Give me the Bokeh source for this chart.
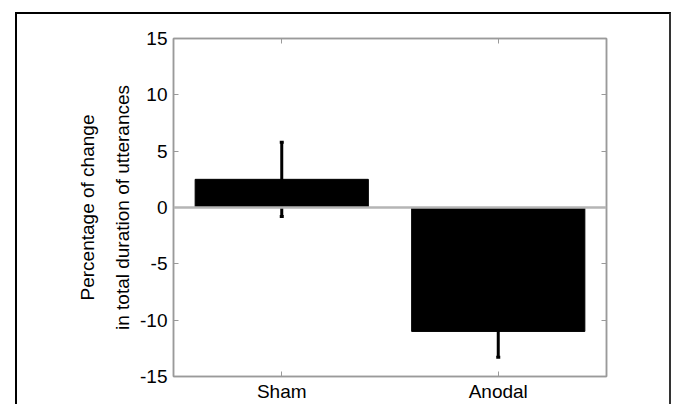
from bokeh.plotting import figure
from bokeh.models import (FactorRange, Range1d, LinearAxis, CategoricalAxis, Span,
                          ColumnDataSource, Whisker, TeeHead, FixedTicker, CustomJSTickFormatter,
                          InlineStyleSheet)
from bokeh.embed import file_html
from bokeh.resources import INLINE

categories = ["Sham", "Anodal"]
means = [2.5, -11.0]
sem = [3.3, 2.3]
y_ticks = [-15, -10, -5, 0, 5, 10, 15]

lower = [m - s for m, s in zip(means, sem)]
upper = [m + s for m, s in zip(means, sem)]
src = ColumnDataSource(dict(cat=categories, val=means, lower=lower, upper=upper))

FONT = "Liberation Sans"
GRAY = "#9a9a9a"

p = figure(x_range=FactorRange(factors=categories, range_padding=0),
           y_range=Range1d(-15, 15),
           width=674, height=404, output_backend="svg", toolbar_location=None,
           min_border_left=173, min_border_right=68, min_border_top=38, min_border_bottom=23)
frame_css = InlineStyleSheet(css="""
:host::after {
  content: "";
  position: absolute;
  left: 15px; top: 12px; right: 3px; bottom: -20px;
  border-top: 2px solid #000; border-left: 2px solid #000; border-right: 2px solid #333;
  pointer-events: none;
}
""")
p.stylesheets = [frame_css]

p.outline_line_color = GRAY
p.outline_line_width = 1.5
p.xgrid.visible = False
p.ygrid.visible = False

p.vbar(x="cat", top="val", bottom=0, width=0.8, source=src,
       fill_color="black", line_color="black")
p.add_layout(Span(location=0, dimension="width", line_color="#b5b5b5", line_width=2.5))

w = Whisker(base="cat", lower="lower", upper="upper", source=src,
            line_color="black", line_width=3,
            upper_head=TeeHead(size=4, line_width=3, line_color="black"),
            lower_head=TeeHead(size=4, line_width=3, line_color="black"))
p.add_layout(w)

def style_axis(ax, labels=True):
    ax.axis_line_color = GRAY
    ax.axis_line_width = 1.5
    ax.major_tick_line_color = GRAY
    ax.major_tick_in = 5
    ax.major_tick_out = 0
    ax.minor_tick_line_color = None
    ax.major_label_text_font = FONT
    ax.major_label_text_font_size = "19px"
    ax.major_label_text_color = "black"
    if not labels:
        ax.major_label_text_color = None

yax = p.yaxis[0]
yax.ticker = FixedTicker(ticks=y_ticks)
yax.formatter = CustomJSTickFormatter(code="return tick.toString();")
style_axis(yax)
yax.major_label_standoff = 6
yax.axis_label = "Percentage of change\nin total duration of utterances"
yax.axis_label_text_font = FONT
yax.axis_label_text_font_size = "19px"
yax.axis_label_text_font_style = "normal"
yax.axis_label_text_color = "black"
yax.axis_label_text_line_height = 1.65
yax.axis_label_standoff = 4

xax = p.xaxis[0]
style_axis(xax)
xax.major_label_standoff = 4

ry = LinearAxis(ticker=FixedTicker(ticks=y_ticks))
style_axis(ry, labels=False)
ry.major_label_standoff = 0
p.add_layout(ry, "right")

tx = CategoricalAxis()
style_axis(tx, labels=False)
tx.major_label_standoff = 0
p.add_layout(tx, "above")

open("out.html", "w").write(file_html(p, INLINE))
